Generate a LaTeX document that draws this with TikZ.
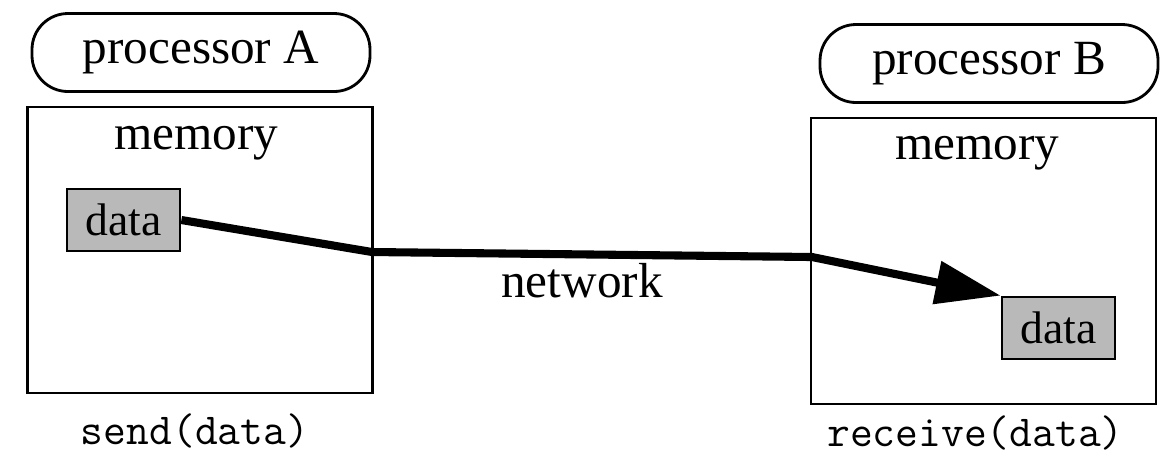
\documentclass[tikz,border=0pt]{standalone}
\usepackage{fontspec}
\setmainfont{Liberation Serif}
\usepackage{tikz}
\usetikzlibrary{positioning, arrows.meta}

\begin{document}
\begin{tikzpicture}[
    x=1cm, y=1cm,
    every node/.style={inner sep=0pt, font=\fontsize{14}{16}\selectfont},
    procbox/.style={draw, line width=0.8pt, rounded corners=0.36cm, minimum width=3.38cm, minimum height=0.78cm},
    membox/.style={draw, line width=0.8pt, minimum width=3.45cm, minimum height=2.86cm},
    databox/.style={draw, line width=0.8pt, fill=gray!55, minimum width=1.13cm, minimum height=0.62cm, font=\fontsize{13}{15}\selectfont},
    calltext/.style={font=\ttfamily\fontsize{12.6}{14}\selectfont},
    link/.style={line width=2.3pt, -{Triangle[length=6.5mm, width=4.2mm]}}
]
\useasboundingbox (0,0) rectangle (11.7,-4.55);

% sender side
\node[procbox] (procA) at (2.01,-0.525) {processor A};
\node[membox] (memA) at (2.00,-2.50) {};
\node (memtxtA) at (1.96,-1.43) {memory};
\node[databox] (dataA) at (1.235,-2.20) {data};
\node[calltext] (sendA) at (1.95,-4.31) {send(data)};

% receiver side
\node[procbox] (procB) at (9.89,-0.635) {processor B};
\node[membox] (memB) at (9.835,-2.61) {};
\node (memtxtB) at (9.77,-1.53) {memory};
\node[databox] (dataB) at (10.585,-3.28) {data};
\node[calltext] (recvB) at (9.755,-4.33) {receive(data)};

% network
\coordinate (netA) at (3.72,-2.52);
\coordinate (netB) at (8.12,-2.57);
\node (net) at (5.82,-2.81) {network};
\draw[link] (dataA.east) -- (netA) -- (netB) -- (dataB.north west);
\end{tikzpicture}
\end{document}
